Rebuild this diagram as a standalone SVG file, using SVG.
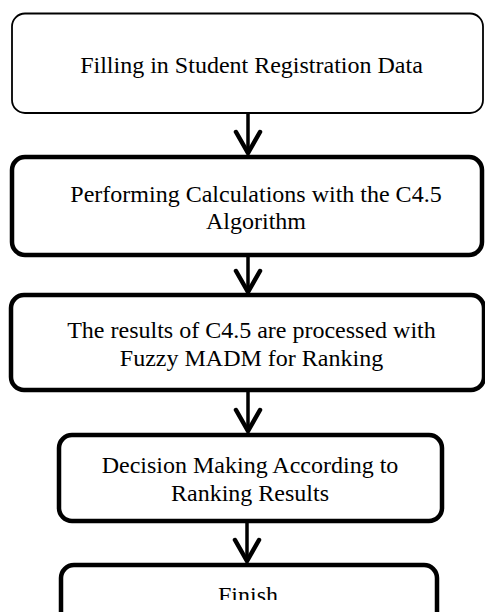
<svg xmlns="http://www.w3.org/2000/svg" width="485" height="612" viewBox="0 0 485 612">
  <style>
    .box { fill: #ffffff; stroke: #000000; stroke-width: 4.5; }
    .box.thin { stroke-width: 1.8; }
    .label { font-family: "Liberation Serif", "Times New Roman", serif; font-size: 24px; fill: #000000; text-anchor: middle; }
    .flow { stroke: #000000; stroke-width: 3.5; fill: none; marker-end: url(#chevron); }
  </style>
  <defs>
    <marker id="chevron" markerUnits="userSpaceOnUse" markerWidth="40" markerHeight="40" viewBox="-30 -20 40 40" refX="0" refY="0" orient="auto">
      <path d="M -21 -12 L 0 0 L -21 12" fill="none" stroke="#000000" stroke-width="4.5" stroke-linecap="round" stroke-linejoin="miter"/>
    </marker>
    <clipPath id="bottomClip">
      <rect x="0" y="0" width="485" height="600"/>
    </clipPath>
  </defs>
  <rect width="485" height="612" fill="#ffffff"/>

  <g id="connectors">
    <line class="flow" x1="248" y1="113" x2="248" y2="153"/>
    <line class="flow" x1="248" y1="255" x2="248" y2="292"/>
    <line class="flow" x1="248" y1="390" x2="248" y2="431"/>
    <line class="flow" x1="247" y1="522" x2="247" y2="561"/>
  </g>

  <g id="node-fill-data">
    <rect class="box thin" x="12" y="13.5" width="471" height="99.5" rx="13"/>
    <text class="label" x="251.5" y="73">Filling in Student Registration Data</text>
  </g>

  <g id="node-c45">
    <rect class="box" x="12" y="157" width="470" height="98" rx="13"/>
    <text class="label" x="256" y="202">Performing Calculations with the C4.5</text>
    <text class="label" x="256" y="229">Algorithm</text>
  </g>

  <g id="node-fuzzy-madm">
    <rect class="box" x="11" y="295" width="473" height="95" rx="13"/>
    <text class="label" x="251.5" y="338">The results of C4.5 are processed with</text>
    <text class="label" x="251.5" y="366">Fuzzy MADM for Ranking</text>
  </g>

  <g id="node-decision">
    <rect class="box" x="59" y="435" width="383" height="86" rx="13"/>
    <text class="label" x="250" y="473">Decision Making According to</text>
    <text class="label" x="250" y="501">Ranking Results</text>
  </g>

  <g id="node-finish">
    <rect class="box" x="61" y="565" width="376" height="70" rx="13"/>
    <text class="label" x="248" y="603" clip-path="url(#bottomClip)">Finish</text>
  </g>
</svg>
